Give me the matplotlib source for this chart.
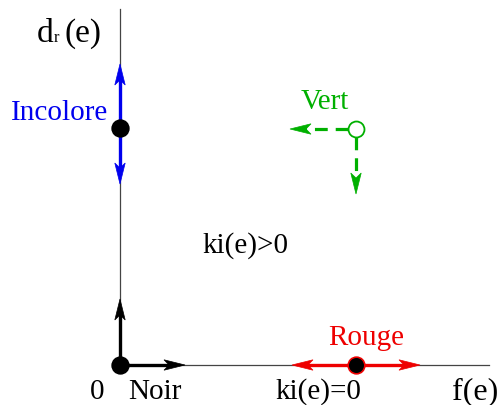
import matplotlib.pyplot as plt

# diagram coordinates: origin at the corner of the axes
axis_len = (369, 356)            # f(e) axis, d_r(e) axis
states = ["Noir", "Incolore", "Vert", "Rouge"]
state_xy = {"Noir": (0, 0), "Incolore": (0, 237), "Vert": (236, 236), "Rouge": (236, 0)}
# arrow end points leaving each state
arrows = {
    "Noir": [(0, 66), (65, 0)],
    "Incolore": [(0, 301), (0, 181)],
    "Vert": [(170, 236), (236, 171)],
    "Rouge": [(172, 0), (300, 0)],
}
colors = {"Noir": "black", "Incolore": "#0000ee", "Vert": "#00b000", "Rouge": "#ee0000"}

plt.rcParams["font.family"] = ["Liberation Serif", "DejaVu Serif"]
fig = plt.figure(figsize=(5.02, 4.06), dpi=100)
ax = fig.add_axes([0, 0, 1, 1])
ax.set_xlim(-120, 382)
ax.set_ylim(-40, 366)
ax.axis("off")

# axes lines
ax.plot([0, axis_len[0]], [0, 0], color="#444444", lw=0.9, zorder=1)
ax.plot([0, 0], [0, axis_len[1]], color="#444444", lw=0.9, zorder=1)


def stealth_head(x1, y1, ux, uy, c, length=21, half=5.2, notch=5):
    # notched arrow head, data units are pixels
    px, py = -uy, ux
    bx, by = x1 - ux * length, y1 - uy * length
    nx, ny = x1 - ux * (length - notch), y1 - uy * (length - notch)
    ax.fill([x1, bx + px * half, nx, bx - px * half],
            [y1, by + py * half, ny, by - py * half],
            color=c, lw=0.5, zorder=2)


for s in states:
    x0, y0 = state_xy[s]
    c = colors[s]
    for (x1, y1) in arrows[s]:
        dx, dy = x1 - x0, y1 - y0
        L = (dx ** 2 + dy ** 2) ** 0.5
        ux, uy = dx / L, dy / L
        if s == "Vert":
            sx, sy = x0 + ux * 8, y0 + uy * 8
            ax.plot([sx, x1 - ux * 14], [sy, y1 - uy * 14], color=c, lw=2.3,
                    dashes=(4, 2.5), solid_capstyle="butt", zorder=2)
        else:
            ax.plot([x0, x1 - ux * 14], [y0, y1 - uy * 14], color=c, lw=2.4,
                    solid_capstyle="butt", zorder=2)
        stealth_head(x1, y1, ux, uy, c)

for s in states:
    x0, y0 = state_xy[s]
    if s == "Vert":
        ax.plot(x0, y0, "o", ms=11.5, mfc="white", mec=colors[s], mew=1.3, zorder=3)
    else:
        ec = colors[s] if s == "Rouge" else "black"
        ax.plot(x0, y0, "o", ms=12, mfc="black", mec=ec, mew=1.2, zorder=3)

fs = 21
ax.text(-83, 324, "d", fontsize=24, ha="left", va="baseline")
ax.text(-66, 324, "r", fontsize=12, ha="left", va="baseline")
ax.text(-56, 324, "(e)", fontsize=24, ha="left", va="baseline")
ax.text(-12, 246, "Incolore", fontsize=fs, color=colors["Incolore"], ha="right", va="baseline")
ax.text(205, 257, "Vert", fontsize=fs, color=colors["Vert"], ha="center", va="baseline")
ax.text(125, 113, "ki(e)>0", fontsize=fs, ha="center", va="baseline")
ax.text(246, 21, "Rouge", fontsize=fs, color=colors["Rouge"], ha="center", va="baseline")
ax.text(-23, -33, "0", fontsize=fs, ha="center", va="baseline")
ax.text(35, -33, "Noir", fontsize=fs, ha="center", va="baseline")
ax.text(198, -33, "ki(e)=0", fontsize=fs, ha="center", va="baseline")
ax.text(355, -33, "f(e)", fontsize=23, ha="center", va="baseline")

fig.savefig("out.png", dpi=100)
